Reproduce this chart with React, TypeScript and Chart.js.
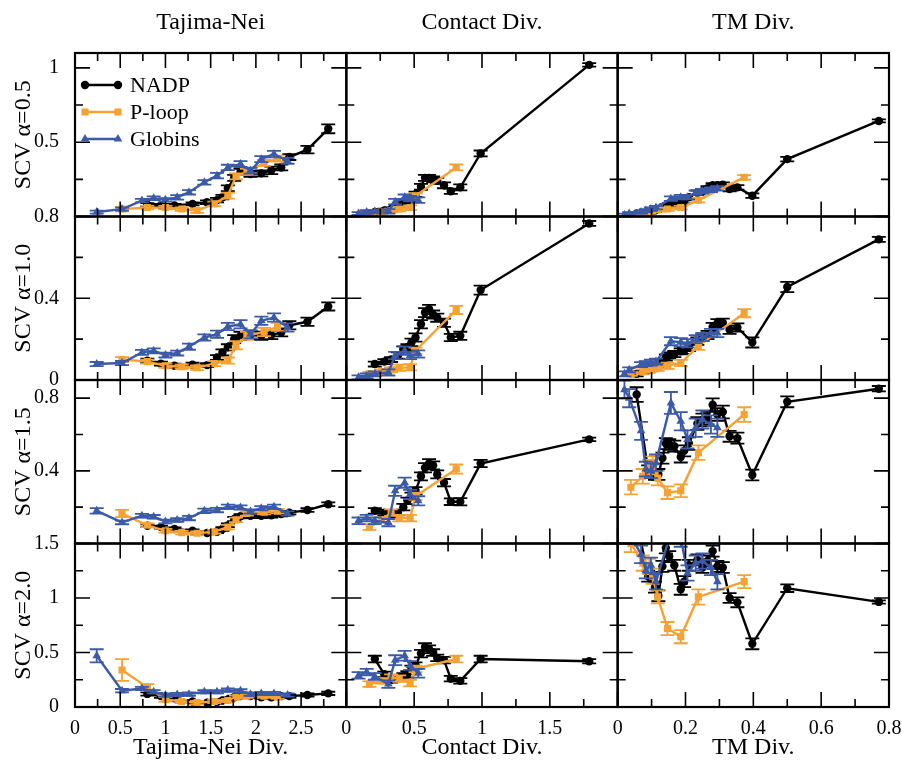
import React, { useEffect, useRef } from 'react';
import { Chart, registerables } from 'chart.js';

Chart.register(...registerables);

// ---------------- text ----------------
const COLUMN_TITLES = ['Tajima-Nei', 'Contact Div.', 'TM Div.'];
const X_TITLES = ['Tajima-Nei Div.', 'Contact Div.', 'TM Div.'];
const ROW_TITLES = ['SCV α=0.5', 'SCV α=1.0', 'SCV α=1.5', 'SCV α=2.0'];
const SERIES = ['NADP', 'P-loop', 'Globins'];

// ---------------- axes ----------------
const X_MIN = [0, 0, 0];
const X_MAX = [3, 2, 0.8];
const X_MAJOR = [[0, 0.5, 1, 1.5, 2, 2.5, 3], [0, 0.5, 1, 1.5, 2], [0, 0.2, 0.4, 0.6, 0.8]];
const X_MINOR = [[0.25, 0.75, 1.25, 1.75, 2.25, 2.75], [0.25, 0.75, 1.25, 1.75], [0.1, 0.3, 0.5, 0.7]];
const X_LABELS = [['0', '0.5', '1', '1.5', '2', '2.5'], ['0', '0.5', '1', '1.5'], ['0', '0.2', '0.4', '0.6', '0.8']];
const Y_MIN = [0, 0, 0, 0];
const Y_MAX = [1.1, 0.8, 0.9, 1.5];
const Y_MAJOR = [[0, 0.5, 1], [0, 0.4, 0.8], [0, 0.4, 0.8], [0, 0.5, 1, 1.5]];
const Y_MINOR = [[0.25, 0.75], [0.2, 0.6], [0.2, 0.6], [0.25, 0.75, 1.25]];
const Y_LABELS = [['0.5', '1'], ['0', '0.4', '0.8'], ['0.4', '0.8'], ['0', '0.5', '1', '1.5']];

// ---------------- data: Tajima-Nei column ----------------
const TN_NADP_X = [0.8, 0.95, 1.1, 1.3, 1.46, 1.57, 1.63, 1.69, 1.76, 1.83, 1.94, 2.06, 2.17, 2.28, 2.37, 2.57, 2.8];
const TN_NADP_Y = [
  [0.08, 0.075, 0.075, 0.085, 0.096, 0.11, 0.13, 0.19, 0.26, 0.3, 0.286, 0.29, 0.31, 0.33, 0.4, 0.45, 0.59],
  [0.094, 0.08, 0.07, 0.075, 0.073, 0.11, 0.135, 0.16, 0.2, 0.216, 0.22, 0.216, 0.22, 0.233, 0.268, 0.285, 0.36],
  [0.098, 0.09, 0.08, 0.07, 0.058, 0.065, 0.08, 0.1, 0.135, 0.15, 0.152, 0.152, 0.155, 0.162, 0.17, 0.184, 0.216],
  [0.12, 0.1, 0.08, 0.05, 0.04, 0.045, 0.06, 0.07, 0.09, 0.1, 0.1, 0.09, 0.09, 0.1, 0.1, 0.11, 0.125],
];
const TN_NADP_E = [
  [0.01, 0.01, 0.01, 0.01, 0.012, 0.015, 0.015, 0.02, 0.02, 0.02, 0.02, 0.02, 0.025, 0.02, 0.02, 0.025, 0.03],
  [0.01, 0.01, 0.01, 0.01, 0.01, 0.012, 0.015, 0.015, 0.02, 0.02, 0.02, 0.02, 0.02, 0.02, 0.02, 0.02, 0.02],
  [0.008, 0.008, 0.008, 0.008, 0.008, 0.008, 0.01, 0.01, 0.012, 0.012, 0.012, 0.012, 0.012, 0.012, 0.01, 0.01, 0.01],
  [0.015, 0.015, 0.015, 0.012, 0.012, 0.012, 0.012, 0.015, 0.015, 0.015, 0.015, 0.015, 0.015, 0.015, 0.015, 0.015, 0.015],
];
const TN_PLOOP_X = [0.52, 0.8, 1.0, 1.18, 1.35, 1.54, 1.69, 1.78, 1.9, 2.09, 2.24];
const TN_PLOOP_Y = [
  [0.05, 0.06, 0.06, 0.05, 0.04, 0.085, 0.14, 0.27, 0.3, 0.36, 0.39],
  [0.1, 0.09, 0.07, 0.065, 0.06, 0.08, 0.095, 0.17, 0.216, 0.235, 0.26],
  [0.165, 0.1, 0.07, 0.06, 0.056, 0.065, 0.09, 0.13, 0.165, 0.172, 0.178],
  [0.34, 0.18, 0.07, 0.05, 0.04, 0.05, 0.06, 0.09, 0.1, 0.1, 0.09],
];
const TN_PLOOP_E = [
  [0.015, 0.012, 0.012, 0.012, 0.015, 0.015, 0.02, 0.02, 0.02, 0.02, 0.02],
  [0.012, 0.01, 0.01, 0.01, 0.012, 0.012, 0.015, 0.02, 0.02, 0.02, 0.02],
  [0.02, 0.01, 0.01, 0.01, 0.01, 0.01, 0.012, 0.012, 0.012, 0.012, 0.012],
  [0.1, 0.03, 0.02, 0.015, 0.015, 0.015, 0.015, 0.015, 0.015, 0.015, 0.015],
];
const TN_GLOB_X = [0.24, 0.52, 0.74, 0.87, 1.0, 1.13, 1.26, 1.43, 1.57, 1.69, 1.83, 1.94, 2.06, 2.2, 2.35];
const TN_GLOB_Y = [
  [0.03, 0.05, 0.107, 0.123, 0.112, 0.129, 0.163, 0.23, 0.275, 0.33, 0.353, 0.308, 0.386, 0.42, 0.375],
  [0.078, 0.083, 0.135, 0.143, 0.122, 0.132, 0.163, 0.208, 0.224, 0.262, 0.273, 0.224, 0.29, 0.306, 0.257],
  [0.18, 0.116, 0.153, 0.147, 0.121, 0.129, 0.14, 0.18, 0.184, 0.202, 0.198, 0.176, 0.194, 0.202, 0.165],
  [0.47, 0.15, 0.17, 0.14, 0.11, 0.115, 0.118, 0.14, 0.14, 0.155, 0.148, 0.118, 0.124, 0.124, 0.11],
];
const TN_GLOB_E = [
  [0.01, 0.01, 0.012, 0.012, 0.012, 0.015, 0.015, 0.015, 0.018, 0.018, 0.02, 0.02, 0.02, 0.022, 0.02],
  [0.01, 0.01, 0.012, 0.012, 0.012, 0.012, 0.015, 0.015, 0.018, 0.018, 0.02, 0.02, 0.02, 0.02, 0.02],
  [0.015, 0.01, 0.01, 0.01, 0.01, 0.01, 0.012, 0.012, 0.012, 0.012, 0.012, 0.012, 0.012, 0.012, 0.012],
  [0.06, 0.015, 0.015, 0.015, 0.015, 0.015, 0.015, 0.015, 0.015, 0.015, 0.015, 0.015, 0.015, 0.015, 0.015],
];

// ---------------- data: Contact column ----------------
const CD_NADP_X = [0.21, 0.28, 0.33, 0.38, 0.42, 0.45, 0.48, 0.51, 0.55, 0.58, 0.61, 0.64, 0.67, 0.72, 0.77, 0.84, 0.99, 1.79];
const CD_NADP_Y = [
  [0.03, 0.04, 0.05, 0.07, 0.09, 0.1, 0.11, 0.15, 0.2, 0.26, 0.26, 0.25, 0.24, 0.21, 0.17, 0.196, 0.424, 1.02],
  [0.078, 0.09, 0.1, 0.12, 0.15, 0.16, 0.184, 0.208, 0.273, 0.33, 0.346, 0.32, 0.305, 0.28, 0.208, 0.216, 0.44, 0.766],
  [0.18, 0.17, 0.16, 0.17, 0.2, 0.235, 0.26, 0.29, 0.37, 0.417, 0.44, 0.43, 0.38, 0.335, 0.23, 0.23, 0.44, 0.573],
  [0.44, 0.3, 0.25, 0.27, 0.28, 0.3, 0.35, 0.38, 0.49, 0.55, 0.53, 0.5, 0.45, 0.43, 0.26, 0.24, 0.44, 0.42],
];
const CD_NADP_E = [
  [0.012, 0.012, 0.012, 0.012, 0.015, 0.015, 0.015, 0.018, 0.02, 0.02, 0.02, 0.02, 0.02, 0.02, 0.018, 0.02, 0.02, 0.012],
  [0.012, 0.012, 0.012, 0.015, 0.015, 0.015, 0.018, 0.02, 0.02, 0.022, 0.022, 0.02, 0.02, 0.02, 0.018, 0.02, 0.022, 0.012],
  [0.015, 0.015, 0.015, 0.015, 0.018, 0.018, 0.02, 0.02, 0.022, 0.025, 0.025, 0.022, 0.022, 0.02, 0.018, 0.02, 0.02, 0.01],
  [0.03, 0.025, 0.025, 0.025, 0.03, 0.03, 0.03, 0.03, 0.035, 0.035, 0.035, 0.03, 0.03, 0.03, 0.025, 0.025, 0.03, 0.02],
];
const CD_PLOOP_X = [0.17, 0.26, 0.33, 0.39, 0.47, 0.51, 0.81];
const CD_PLOOP_Y = [
  [0.02, 0.03, 0.04, 0.05, 0.06, 0.14, 0.33],
  [0.03, 0.04, 0.05, 0.06, 0.062, 0.143, 0.343],
  [0.09, 0.13, 0.17, 0.14, 0.14, 0.26, 0.41],
  [0.21, 0.24, 0.27, 0.26, 0.22, 0.35, 0.44],
];
const CD_PLOOP_E = [
  [0.01, 0.012, 0.012, 0.015, 0.015, 0.015, 0.02],
  [0.01, 0.012, 0.012, 0.015, 0.015, 0.015, 0.02],
  [0.015, 0.015, 0.018, 0.018, 0.018, 0.02, 0.025],
  [0.025, 0.025, 0.03, 0.03, 0.03, 0.03, 0.03],
];
const CD_GLOB_X = [0.09, 0.15, 0.21, 0.31, 0.36, 0.43, 0.47, 0.53];
const CD_GLOB_Y = [
  [0.02, 0.03, 0.033, 0.035, 0.1, 0.13, 0.12, 0.11],
  [0.013, 0.02, 0.03, 0.037, 0.12, 0.143, 0.12, 0.127],
  [0.125, 0.14, 0.125, 0.115, 0.29, 0.335, 0.27, 0.235],
  [0.29, 0.32, 0.28, 0.21, 0.43, 0.47, 0.38, 0.31],
];
const CD_GLOB_E = [
  [0.01, 0.012, 0.012, 0.015, 0.018, 0.018, 0.018, 0.018],
  [0.01, 0.012, 0.012, 0.015, 0.018, 0.02, 0.018, 0.018],
  [0.018, 0.018, 0.018, 0.02, 0.028, 0.028, 0.025, 0.025],
  [0.03, 0.03, 0.03, 0.035, 0.045, 0.045, 0.04, 0.04],
];

// ---------------- data: TM column ----------------
const TM_NADP_X = [0.056, 0.09, 0.11, 0.12, 0.132, 0.142, 0.152, 0.167, 0.186, 0.196, 0.21, 0.235, 0.25, 0.265, 0.28, 0.294, 0.31, 0.33, 0.353, 0.397, 0.5, 0.77];
const TM_NADP_Y = [
  [0.02, 0.03, 0.04, 0.05, 0.06, 0.07, 0.08, 0.09, 0.096, 0.1, 0.13, 0.16, 0.17, 0.19, 0.21, 0.21, 0.214, 0.185, 0.196, 0.14, 0.386, 0.643],
  [0.03, 0.05, 0.06, 0.07, 0.09, 0.11, 0.12, 0.127, 0.14, 0.143, 0.16, 0.19, 0.208, 0.22, 0.26, 0.278, 0.28, 0.246, 0.257, 0.184, 0.455, 0.688],
  [0.82, 0.4, 0.38, 0.38, 0.47, 0.55, 0.545, 0.536, 0.476, 0.51, 0.55, 0.66, 0.68, 0.69, 0.764, 0.71, 0.724, 0.59, 0.58, 0.377, 0.78, 0.852],
  [1.7, 1.2, 1.1, 1.02, 1.29, 1.46, 1.38, 1.3, 1.08, 1.15, 1.3, 1.35, 1.28, 1.34, 1.43, 1.29, 1.28, 1.0, 0.96, 0.58, 1.09, 0.964],
];
const TM_NADP_E = [
  [0.01, 0.01, 0.01, 0.01, 0.01, 0.012, 0.012, 0.012, 0.012, 0.012, 0.015, 0.015, 0.015, 0.015, 0.015, 0.015, 0.015, 0.015, 0.015, 0.015, 0.015, 0.01],
  [0.012, 0.012, 0.012, 0.012, 0.012, 0.015, 0.015, 0.015, 0.015, 0.015, 0.018, 0.018, 0.018, 0.02, 0.02, 0.02, 0.02, 0.02, 0.02, 0.025, 0.025, 0.012],
  [0.04, 0.03, 0.03, 0.03, 0.03, 0.03, 0.03, 0.03, 0.03, 0.03, 0.035, 0.035, 0.035, 0.035, 0.035, 0.035, 0.035, 0.03, 0.03, 0.03, 0.03, 0.015],
  [0.06, 0.05, 0.05, 0.05, 0.05, 0.05, 0.05, 0.05, 0.05, 0.05, 0.05, 0.05, 0.05, 0.05, 0.05, 0.05, 0.05, 0.045, 0.045, 0.05, 0.035, 0.015],
];
const TM_PLOOP_X = [0.039, 0.074, 0.093, 0.103, 0.118, 0.147, 0.186, 0.238, 0.373];
const TM_PLOOP_Y = [
  [0.01, 0.02, 0.03, 0.04, 0.045, 0.05, 0.06, 0.11, 0.263],
  [0.03, 0.04, 0.05, 0.054, 0.06, 0.07, 0.083, 0.167, 0.327],
  [0.31, 0.37, 0.42, 0.44, 0.36, 0.28, 0.29, 0.5, 0.71],
  [1.5, 1.32, 1.29, 1.2, 1.01, 0.72, 0.645, 1.01, 1.15],
];
const TM_PLOOP_E = [
  [0.008, 0.01, 0.01, 0.01, 0.012, 0.012, 0.012, 0.015, 0.015],
  [0.01, 0.012, 0.012, 0.012, 0.015, 0.015, 0.015, 0.02, 0.02],
  [0.04, 0.04, 0.04, 0.04, 0.04, 0.035, 0.035, 0.04, 0.04],
  [0.08, 0.07, 0.07, 0.07, 0.06, 0.06, 0.06, 0.07, 0.06],
];
const TM_GLOB_X = [0.02, 0.034, 0.069, 0.083, 0.098, 0.113, 0.157, 0.186, 0.206, 0.23, 0.25, 0.275, 0.294];
const TM_GLOB_Y = [
  [0.01, 0.02, 0.03, 0.04, 0.05, 0.06, 0.12, 0.13, 0.13, 0.16, 0.17, 0.18, 0.19],
  [0.03, 0.05, 0.075, 0.08, 0.085, 0.09, 0.19, 0.185, 0.18, 0.2, 0.21, 0.23, 0.23],
  [0.847, 0.8, 0.62, 0.41, 0.4, 0.445, 0.774, 0.673, 0.573, 0.637, 0.682, 0.655, 0.637],
  [1.7, 1.6, 1.4, 1.25, 1.3, 1.15, 1.6, 1.55, 1.23, 1.32, 1.34, 1.28, 1.15],
];
const TM_GLOB_E = [
  [0.01, 0.01, 0.01, 0.01, 0.012, 0.012, 0.015, 0.015, 0.015, 0.015, 0.015, 0.015, 0.015],
  [0.012, 0.012, 0.012, 0.012, 0.015, 0.015, 0.02, 0.02, 0.02, 0.02, 0.02, 0.02, 0.02],
  [0.05, 0.05, 0.05, 0.04, 0.04, 0.045, 0.06, 0.05, 0.05, 0.05, 0.05, 0.05, 0.05],
  [0.08, 0.08, 0.08, 0.07, 0.07, 0.07, 0.08, 0.08, 0.07, 0.07, 0.07, 0.07, 0.07],
];

// lookup tables [column][series]
const X_VALUES = [
  [TN_NADP_X, TN_PLOOP_X, TN_GLOB_X],
  [CD_NADP_X, CD_PLOOP_X, CD_GLOB_X],
  [TM_NADP_X, TM_PLOOP_X, TM_GLOB_X],
];
const Y_VALUES = [
  [TN_NADP_Y, TN_PLOOP_Y, TN_GLOB_Y],
  [CD_NADP_Y, CD_PLOOP_Y, CD_GLOB_Y],
  [TM_NADP_Y, TM_PLOOP_Y, TM_GLOB_Y],
];
const E_VALUES = [
  [TN_NADP_E, TN_PLOOP_E, TN_GLOB_E],
  [CD_NADP_E, CD_PLOOP_E, CD_GLOB_E],
  [TM_NADP_E, TM_PLOOP_E, TM_GLOB_E],
];

// ---------------- styles ----------------
const FONT = "'Liberation Serif', 'Times New Roman', serif";
const COLORS = ['#000000', '#f5a133', '#3b5aa8'];
const POINT_STYLES = ['circle', 'rect', 'triangle'];
const POINT_RADII = [4.2, 5, 5];

function labelFor(list: string[], v: number): string {
  const f = list.find((l) => Math.abs(Number(l) - v) < 1e-9);
  return f === undefined ? '' : f;
}

function drawMarker(ctx: CanvasRenderingContext2D, style: string, x: number, y: number, r: number, color: string) {
  ctx.fillStyle = color;
  ctx.beginPath();
  if (style === 'circle') {
    ctx.arc(x, y, r, 0, Math.PI * 2);
  } else if (style === 'rect') {
    const h = r * Math.SQRT1_2;
    ctx.rect(x - h, y - h, 2 * h, 2 * h);
  } else {
    ctx.moveTo(x, y - r);
    ctx.lineTo(x + r * 0.866, y + r * 0.5);
    ctx.lineTo(x - r * 0.866, y + r * 0.5);
    ctx.closePath();
  }
  ctx.fill();
}

const panelPlugin = {
  id: 'panelPlugin',
  beforeDatasetDraw(chart: any, args: any) {
    const meta = args.meta;
    const xs = chart.scales[meta.xAxisID];
    const ys = chart.scales[meta.yAxisID];
    const ctx = chart.ctx as CanvasRenderingContext2D;
    ctx.save();
    ctx.beginPath();
    ctx.rect(xs.left, ys.top, xs.right - xs.left, ys.bottom - ys.top);
    ctx.clip();
    const ds = chart.data.datasets[args.index];
    ctx.strokeStyle = ds.borderColor;
    ctx.lineWidth = 1.8;
    ds.data.forEach((p: any, i: number) => {
      const e = ds.errors[i];
      const px = xs.getPixelForValue(p.x);
      const y1 = ys.getPixelForValue(p.y - e);
      const y2 = ys.getPixelForValue(p.y + e);
      ctx.beginPath();
      ctx.moveTo(px, y1);
      ctx.lineTo(px, y2);
      ctx.moveTo(px - 7, y1);
      ctx.lineTo(px + 7, y1);
      ctx.moveTo(px - 7, y2);
      ctx.lineTo(px + 7, y2);
      ctx.stroke();
    });
  },
  afterDatasetDraw(chart: any) {
    chart.ctx.restore();
  },
  afterDraw(chart: any) {
    const ctx = chart.ctx as CanvasRenderingContext2D;
    ctx.save();
    ctx.strokeStyle = '#000';
    for (let c = 0; c < 3; c++) {
      const xs = chart.scales['x' + c];
      for (let r = 0; r < 4; r++) {
        const ys = chart.scales['y' + r];
        const L = xs.left, R = xs.right, T = ys.top, B = ys.bottom;
        ctx.lineWidth = 1.6;
        ctx.beginPath();
        const tick = (vals: number[], len: number) => {
          vals.forEach((v) => {
            const px = xs.getPixelForValue(v);
            ctx.moveTo(px, B); ctx.lineTo(px, B - len);
            ctx.moveTo(px, T); ctx.lineTo(px, T + len);
          });
        };
        const ytick = (vals: number[], len: number) => {
          vals.forEach((v) => {
            const py = ys.getPixelForValue(v);
            ctx.moveTo(L, py); ctx.lineTo(L + len, py);
            ctx.moveTo(R, py); ctx.lineTo(R - len, py);
          });
        };
        tick(X_MAJOR[c], 15);
        tick(X_MINOR[c], 8);
        ytick(Y_MAJOR[r], 15);
        ytick(Y_MINOR[r], 8);
        ctx.stroke();
        ctx.lineWidth = 2.2;
        ctx.strokeRect(L, T, R - L, B - T);
      }
    }
    // legend inside the first panel
    const xs0 = chart.scales.x0;
    const ys0 = chart.scales.y0;
    ctx.font = `22px ${FONT}`;
    ctx.textBaseline = 'middle';
    ctx.textAlign = 'left';
    SERIES.forEach((name, s) => {
      const y = ys0.top + 32 + s * 27;
      const x0 = xs0.left + 10;
      const x1 = xs0.left + 43;
      ctx.strokeStyle = COLORS[s];
      ctx.lineWidth = 2.4;
      ctx.beginPath();
      ctx.moveTo(x0, y);
      ctx.lineTo(x1, y);
      ctx.stroke();
      drawMarker(ctx, POINT_STYLES[s], x0, y, POINT_RADII[s], COLORS[s]);
      drawMarker(ctx, POINT_STYLES[s], x1, y, POINT_RADII[s], COLORS[s]);
      ctx.fillStyle = '#000';
      ctx.fillText(name, xs0.left + 55, y + 1);
    });
    ctx.restore();
  },
};

function buildDatasets() {
  const datasets: any[] = [];
  for (let c = 0; c < 3; c++) {
    for (let r = 0; r < 4; r++) {
      for (let s = 0; s < 3; s++) {
        const xsArr = X_VALUES[c][s];
        const ysArr = Y_VALUES[c][s][r];
        datasets.push({
          label: SERIES[s],
          data: xsArr.map((x, i) => ({ x, y: ysArr[i] })),
          errors: E_VALUES[c][s][r],
          xAxisID: 'x' + c,
          yAxisID: 'y' + r,
          borderColor: COLORS[s],
          backgroundColor: COLORS[s],
          borderWidth: 2.4,
          pointStyle: POINT_STYLES[s],
          pointRadius: POINT_RADII[s],
          pointBackgroundColor: COLORS[s],
          pointBorderColor: COLORS[s],
          pointBorderWidth: 0,
          tension: 0,
          fill: false,
          order: 2 - s,
        });
      }
    }
  }
  return datasets;
}

function noPadding(sc: any) {
  sc.paddingLeft = 0;
  sc.paddingRight = 0;
  sc.paddingTop = 0;
  sc.paddingBottom = 0;
}

function buildScales() {
  const scales: any = {};
  const tickFont = { family: FONT, size: 20, lineHeight: 1 };
  const titleFont = { family: FONT, size: 24, lineHeight: 1 };
  for (let c = 0; c < 3; c++) {
    scales['x' + c] = {
      type: 'linear', axis: 'x', position: 'bottom', stack: 'bottom', stackWeight: 1, weight: c + 1,
      min: X_MIN[c], max: X_MAX[c],
      grid: { display: false }, border: { display: false },
      afterBuildTicks: (sc: any) => {
        sc.ticks = [...X_MAJOR[c], ...X_MINOR[c]].sort((a, b) => a - b).map((v) => ({ value: v }));
      },
      ticks: {
        autoSkip: false, maxRotation: 0, minRotation: 0, padding: 4, color: '#000', font: tickFont,
        callback: (v: number) => labelFor(X_LABELS[c], v),
      },
      title: { display: true, text: X_TITLES[c], color: '#000', font: titleFont, padding: { top: 0, bottom: 1 } },
      afterFit: (sc: any) => { sc.height = 54; noPadding(sc); },
    };
  }
  for (let c = 0; c < 3; c++) {
    scales['t' + c] = {
      type: 'linear', axis: 'x', position: 'top', stack: 'top', stackWeight: 1, weight: 3 - c,
      min: 0, max: 1,
      grid: { display: false }, border: { display: false },
      ticks: { display: false },
      title: { display: true, text: COLUMN_TITLES[c], color: '#000', font: titleFont, padding: { top: 11, bottom: 0 } },
      afterFit: (sc: any) => { sc.height = 53; noPadding(sc); },
    };
  }
  for (let r = 0; r < 4; r++) {
    scales['y' + r] = {
      type: 'linear', axis: 'y', position: 'left', stack: 'left', stackWeight: 1, weight: 4 - r,
      min: Y_MIN[r], max: Y_MAX[r],
      grid: { display: false }, border: { display: false },
      afterBuildTicks: (sc: any) => {
        sc.ticks = [...Y_MAJOR[r], ...Y_MINOR[r]].sort((a, b) => a - b).map((v) => ({ value: v }));
      },
      ticks: {
        autoSkip: false, padding: 8, color: '#000', font: tickFont,
        callback: (v: number) => labelFor(Y_LABELS[r], v),
      },
      title: { display: true, text: ROW_TITLES[r], color: '#000', font: titleFont, padding: { top: 12, bottom: 0 } },
      afterFit: (sc: any) => { sc.width = 75; noPadding(sc); },
    };
  }
  return scales;
}

export default function App() {
  const ref = useRef<HTMLCanvasElement>(null);
  useEffect(() => {
    const chart = new Chart(ref.current as HTMLCanvasElement, {
      type: 'line',
      data: { datasets: buildDatasets() },
      options: {
        responsive: false,
        animation: false,
        devicePixelRatio: 1,
        layout: { padding: { left: 0, right: 13, top: 0, bottom: 0 } },
        plugins: { legend: { display: false }, tooltip: { enabled: false } },
        scales: buildScales(),
      } as any,
      plugins: [panelPlugin as any],
    });
    return () => chart.destroy();
  }, []);
  return (
    <canvas
      ref={ref}
      width={902}
      height={761}
      style={{ position: 'absolute', left: 0, top: 0, width: 902, height: 761, background: '#fff' }}
    />
  );
}
